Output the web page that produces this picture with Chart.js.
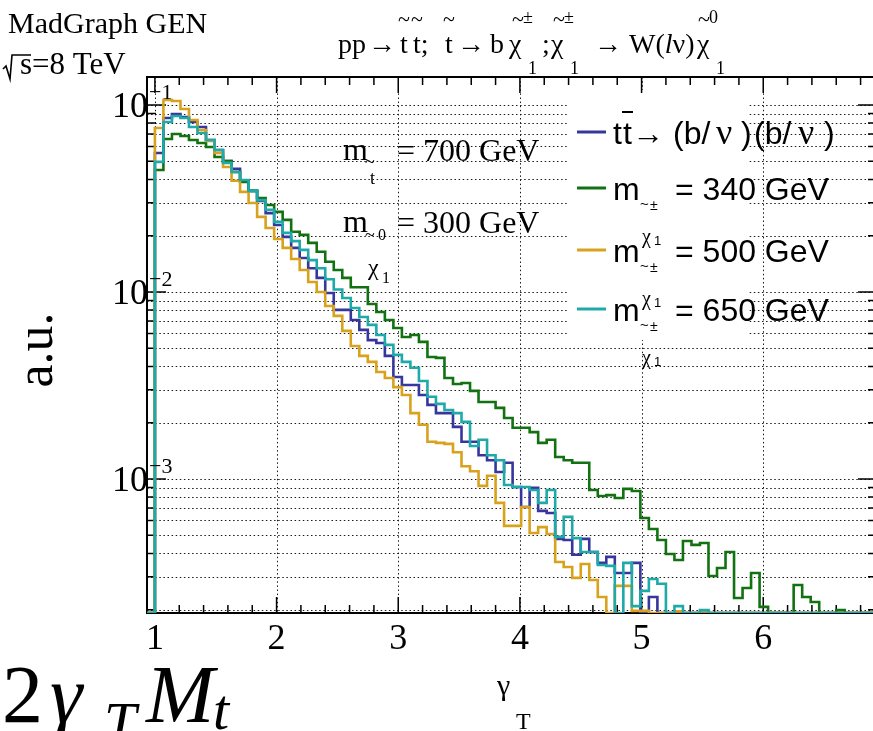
<!DOCTYPE html>
<html>
<head>
<meta charset="utf-8">
<script src="https://cdn.jsdelivr.net/npm/chart.js@4.4.1/dist/chart.umd.min.js"></script>
<style>
  html, body { margin: 0; padding: 0; background: #fff; overflow: hidden; }
  #wrap { width: 880px; height: 731px; }
</style>
</head>
<body>
<div id="wrap"><canvas id="gammaChart" width="880" height="731"></canvas></div>
<script>
// gamma_T binning
const binStart = 1.0;
const binWidth = 0.07;

// bin contents in a.u. (0 = empty bin)
const ttbar = [0.0553, 0.0852, 0.0895, 0.0863, 0.0811, 0.0763, 0.0650, 0.0574, 0.0502, 0.0455,
  0.0393, 0.0347, 0.0307, 0.0264, 0.0228, 0.0197, 0.0172, 0.0152, 0.0134, 0.0119,
  0.00988, 0.00802, 0.00802, 0.00708, 0.00627, 0.00553, 0.00533, 0.00455, 0.00351, 0.00318,
  0.00318, 0.00281, 0.00249, 0.00225, 0.00225, 0.00190, 0.00158, 0.00158, 0.00134, 0.00126,
  0.00109, 0.00122, 0.000906, 0.000708, 0.000896, 0.000675, 0.000658, 0.000478, 0.000472, 0.000393,
  0.000478, 0.000407, 0.000356, 0.000383, 0.000314, 0.000314, 0.000356, 0, 0.000234];

const m340 = [0.0449, 0.0658, 0.0700, 0.0683, 0.0650, 0.0626, 0.0596, 0.0527, 0.0502, 0.0438,
  0.0388, 0.0347, 0.0318, 0.0292, 0.0268, 0.0243, 0.0210, 0.0202, 0.0183, 0.0164,
  0.0145, 0.0131, 0.0119, 0.0106, 0.0106, 0.00863, 0.00782, 0.00708, 0.00642, 0.00574,
  0.00589, 0.00541, 0.00449, 0.00444, 0.00347, 0.00322, 0.00326, 0.00296, 0.00258, 0.00258,
  0.00240, 0.00212, 0.00188, 0.00188, 0.00178, 0.00156, 0.00162, 0.00131, 0.00126, 0.00122,
  0.00122, 0.000873, 0.000811, 0.000820, 0.000791, 0.000885, 0.000863, 0.000619, 0.000540, 0.000472,
  0.000397, 0.000369, 0.000466, 0.000444, 0.000455, 0.000303, 0.000334, 0.000407, 0.000231, 0.000261,
  0.000314, 0.000207, 0, 0, 0, 0.000271, 0.000234, 0.000220, 0, 0,
  0.000199];

const m500 = [0.0753, 0.1063, 0.1050, 0.0952, 0.0831, 0.0735, 0.0642, 0.0553, 0.0466, 0.0393,
  0.0343, 0.0299, 0.0252, 0.0220, 0.0192, 0.0172, 0.0150, 0.0131, 0.0113, 0.0100,
  0.00841, 0.00745, 0.00619, 0.00514, 0.00455, 0.00423, 0.00373, 0.00347, 0.00310, 0.00281,
  0.00225, 0.00195, 0.00158, 0.00156, 0.00154, 0.00139, 0.00117, 0.00110, 0.000918, 0.00104,
  0.000745, 0.000561, 0.000561, 0.000708, 0.000514, 0.000553, 0.000508, 0.000360, 0.000338, 0.000296,
  0.000351, 0.000288, 0.000234, 0, 0.000268, 0.000268, 0.000197, 0.000197, 0, 0,
  0, 0.000196, 0, 0, 0.000196];

const m650 = [0.0496, 0.0811, 0.0873, 0.0852, 0.0763, 0.0708, 0.0650, 0.0574, 0.0490, 0.0438,
  0.0397, 0.0347, 0.0310, 0.0275, 0.0237, 0.0207, 0.0187, 0.0168, 0.0148, 0.0134,
  0.0117, 0.0103, 0.00929, 0.00821, 0.00735, 0.00667, 0.00589, 0.00521, 0.00461, 0.00423,
  0.00393, 0.00334, 0.00275, 0.00252, 0.00234, 0.00225, 0.00202, 0.00150, 0.00162, 0.00134,
  0.00126, 0.000929, 0.000906, 0.000906, 0.000873, 0.000745, 0.000873, 0.000490, 0.000627, 0.000483,
  0.000407, 0.000407, 0.000347, 0.000343, 0, 0.000356, 0.000209, 0.000252, 0.000292, 0.000275,
  0, 0.000209, 0, 0, 0.000199];

// axis ticks
const xTicks = [1, 2, 3, 4, 5, 6];
const xTickLabels = ['1', '2', '3', '4', '5', '6'];
const yDecades = [1e-1, 1e-2, 1e-3];
const yDecadeExp = ['−1', '−2', '−3'];

const X_MIN = 0.935, X_MAX = 6.935;
const Y_MIN = 1.92e-4, Y_MAX = 0.1411;

const SERIF = '"Liberation Serif", "Times New Roman", serif';
const SANS = '"Liberation Sans", Arial, sans-serif';

const colors = {
  ttbar: '#36369c',
  m340: '#127212',
  m500: '#d8a21c',
  m650: '#20a9a9'
};

// minor + major log grid values
const yGrid = [];
for (let e = -4; e <= -1; e++) {
  for (let m = 1; m <= 9; m++) {
    const v = m * Math.pow(10, e);
    if (v >= Y_MIN && v <= Y_MAX) yGrid.push(v);
  }
}

function histPoints(values) {
  const pts = [{ x: X_MIN, y: Y_MIN }];
  values.forEach((v, i) => pts.push({ x: binStart + i * binWidth, y: v > 0 ? v : Y_MIN }));
  pts.push({ x: binStart + values.length * binWidth, y: Y_MIN });
  pts.push({ x: X_MAX, y: Y_MIN });
  return pts;
}

function put(ctx, s, x, y, font, align) {
  ctx.font = font;
  ctx.textAlign = align || 'left';
  ctx.textBaseline = 'alphabetic';
  ctx.fillText(s, x, y);
  return x + ctx.measureText(s).width;
}

/* ===== ROOT style frame, grid, ticks and texts ===== */
const rootStyle = {
  id: 'rootStyle',
  beforeDatasetsDraw(chart) {
    const { ctx, chartArea: a, scales: { x, y } } = chart;
    ctx.save();

    // dotted grid
    ctx.strokeStyle = '#1a1a1a';
    ctx.lineWidth = 1;
    ctx.setLineDash([1.5, 2.6]);
    ctx.beginPath();
    xTicks.forEach(v => {
      const px = Math.round(x.getPixelForValue(v)) + 0.5;
      ctx.moveTo(px, a.top); ctx.lineTo(px, a.bottom);
    });
    yGrid.forEach(v => {
      const py = Math.round(y.getPixelForValue(v)) + 0.5;
      ctx.moveTo(a.left, py); ctx.lineTo(a.right, py);
    });
    ctx.stroke();
    ctx.setLineDash([]);

    // legend box (white, no border)
    ctx.fillStyle = '#fff';
    ctx.fillRect(567, 90, 181, 250);

    // frame
    ctx.strokeStyle = '#000';
    ctx.lineWidth = 2;
    ctx.strokeRect(a.left, a.top, a.right - a.left, a.bottom - a.top);

    // ticks
    ctx.lineWidth = 1.5;
    ctx.beginPath();
    for (let k = 0; binStart + k * 0.2 <= X_MAX + 1e-9; k++) {
      const v = 1 + k * 0.2;
      const px = x.getPixelForValue(v);
      const len = (k % 5 === 0) ? 16 : 8;
      ctx.moveTo(px, a.bottom); ctx.lineTo(px, a.bottom - len);
      ctx.moveTo(px, a.top); ctx.lineTo(px, a.top + len);
    }
    yGrid.forEach(v => {
      const py = y.getPixelForValue(v);
      const major = yDecades.some(d => Math.abs(d - v) / d < 1e-6);
      const len = major ? 19 : 9;
      ctx.moveTo(a.left, py); ctx.lineTo(a.left + len, py);
      ctx.moveTo(a.right, py); ctx.lineTo(a.right - len, py);
    });
    ctx.stroke();
    ctx.restore();
  },
  afterDatasetsDraw(chart) {
    const { ctx, scales: { x, y } } = chart;
    ctx.save();
    ctx.fillStyle = '#000';

    // tick labels
    xTicks.forEach((v, i) => put(ctx, xTickLabels[i], x.getPixelForValue(v), 649, '36px ' + SERIF, 'center'));
    yDecades.forEach((v, i) => {
      const py = y.getPixelForValue(v);
      put(ctx, '10', 148, py + 12, '36px ' + SERIF, 'right');
      put(ctx, yDecadeExp[i], 149, py - 6, '22px ' + SERIF);
    });

    // axis titles
    put(ctx, 'γ', 497, 695, '30px ' + SERIF);
    put(ctx, 'T', 516, 729, '24px ' + SERIF);
    ctx.save();
    ctx.translate(52, 350);
    ctx.rotate(-Math.PI / 2);
    put(ctx, 'a.u.', 0, 0, '52px ' + SERIF, 'center');
    ctx.restore();

    // header
    put(ctx, 'MadGraph GEN', 8, 33, '30px ' + SERIF);
    ctx.lineWidth = 1.6;
    ctx.strokeStyle = '#000';
    ctx.beginPath();
    ctx.moveTo(3, 69); ctx.lineTo(6, 66); ctx.lineTo(10, 79); ctx.lineTo(12, 55); ctx.lineTo(31, 55);
    ctx.stroke();
    put(ctx, 's=8 TeV', 20, 74, '31px ' + SERIF);

    // process title
    const T = '28px ' + SERIF, S = '18px ' + SERIF, TL = '22px ' + SERIF;
    const bT = 53, bSub = 74, bTil = 26, bSup = 23;
    put(ctx, 'pp', 338, bT, T);
    put(ctx, '→', 368, bT, T);
    put(ctx, 't', 400, bT, T); put(ctx, '~', 398, bTil, TL);
    put(ctx, 't;', 413, bT, T); put(ctx, '~', 411, bTil, TL);
    put(ctx, 't', 445, bT, T); put(ctx, '~', 443, bTil, TL);
    put(ctx, '→', 457, bT, T);
    put(ctx, 'b', 490, bT, T);
    put(ctx, 'χ', 509, bT, T); put(ctx, '1', 528, bSub, S);
    put(ctx, '~', 512, bTil, TL); put(ctx, '±', 523, bSup, S);
    put(ctx, ';', 542, bT, T);
    put(ctx, 'χ', 551, bT, T); put(ctx, '1', 570, bSub, S);
    put(ctx, '~', 553, bTil, TL); put(ctx, '±', 564, bSup, S);
    put(ctx, '→', 594, bT, T);
    let cx = put(ctx, 'W(', 629, bT, T);
    cx = put(ctx, 'l', cx, bT, 'italic ' + T);
    put(ctx, 'ν)', cx, bT, T);
    put(ctx, 'χ', 697, bT, T); put(ctx, '1', 716, bSub, S);
    put(ctx, '~', 698, bTil, TL); put(ctx, '0', 709, bSup, S);

    // mass labels inside the frame
    const M = '32px ' + SERIF;
    put(ctx, 'm', 343, 160, M);
    put(ctx, '~', 365, 168, '18px ' + SERIF);
    put(ctx, 't', 370, 184, '18px ' + SERIF);
    put(ctx, '= 700 GeV', 397, 161, M);
    put(ctx, 'm', 343, 232, M);
    put(ctx, '~', 365, 241, '18px ' + SERIF);
    put(ctx, '0', 378, 240, '16px ' + SERIF);
    put(ctx, 'χ', 368, 275, '24px ' + SERIF);
    put(ctx, '1', 382, 283, '16px ' + SERIF);
    put(ctx, '= 300 GeV', 397, 233, M);

    // legend
    const entries = [
      { color: colors.ttbar, ly: 132 },
      { color: colors.m340, ly: 188, mass: '= 340 GeV' },
      { color: colors.m500, ly: 250, mass: '= 500 GeV' },
      { color: colors.m650, ly: 309, mass: '= 650 GeV' }
    ];
    const L = '32px ' + SANS;
    entries.forEach(e => {
      ctx.strokeStyle = e.color;
      ctx.lineWidth = 3;
      ctx.beginPath(); ctx.moveTo(577, e.ly); ctx.lineTo(606, e.ly); ctx.stroke();
      const b = e.ly + 12;
      ctx.fillStyle = '#000';
      if (!e.mass) {
        put(ctx, 't', 613, b, L);
        put(ctx, 't', 623, b, L);
        ctx.strokeStyle = '#000'; ctx.lineWidth = 2;
        ctx.beginPath(); ctx.moveTo(622, 112); ctx.lineTo(633, 112); ctx.stroke();
        put(ctx, '→', 632, b, L);
        put(ctx, '(b/', 673, b, L); put(ctx, 'ν', 716, b, '36px ' + SERIF); put(ctx, ')', 741, b, L);
        put(ctx, '(b/', 754, b, L); put(ctx, 'ν', 798, b, '36px ' + SERIF); put(ctx, ')', 824, b, L);
      } else {
        put(ctx, 'm', 613, b, L);
        put(ctx, '~', 640, b + 9, '15px ' + SANS);
        put(ctx, '±', 650, b + 10, '14px ' + SANS);
        put(ctx, 'χ', 642, b + 43, '20px ' + SERIF);
        put(ctx, '1', 654, b + 45, '13px ' + SANS);
        put(ctx, e.mass, 675, b, L);
      }
    });

    // big formula bottom-left
    ctx.fillStyle = '#000';
    put(ctx, '2', 2, 722, '82px ' + SERIF);
    put(ctx, 'γ', 50, 722, 'italic 82px ' + SERIF);
    put(ctx, 'T', 104, 742, 'italic 58px ' + SERIF);
    put(ctx, 'M', 146, 722, 'italic 82px ' + SERIF);
    put(ctx, 't', 213, 729, 'italic 58px ' + SERIF);

    ctx.restore();
  }
};

const ctx = document.getElementById('gammaChart');

new Chart(ctx, {
  type: 'line',
  data: {
    datasets: [
      { label: 'ttbar', data: histPoints(ttbar), borderColor: colors.ttbar, order: 3 },
      { label: 'm340', data: histPoints(m340), borderColor: colors.m340, order: 2 },
      { label: 'm500', data: histPoints(m500), borderColor: colors.m500, order: 1 },
      { label: 'm650', data: histPoints(m650), borderColor: colors.m650, order: 0 }
    ]
  },
  options: {
    responsive: false,
    animation: false,
    datasets: {
      line: { stepped: 'before', borderWidth: 2.6, pointRadius: 0, fill: false, tension: 0 }
    },
    layout: { padding: { left: 147, top: 77, right: 3, bottom: 118 } },
    plugins: { legend: { display: false }, tooltip: { enabled: false } },
    scales: {
      x: { type: 'linear', min: X_MIN, max: X_MAX, display: false },
      y: { type: 'logarithmic', min: Y_MIN, max: Y_MAX, display: false }
    }
  },
  plugins: [rootStyle]
});
</script>
</body>
</html>
